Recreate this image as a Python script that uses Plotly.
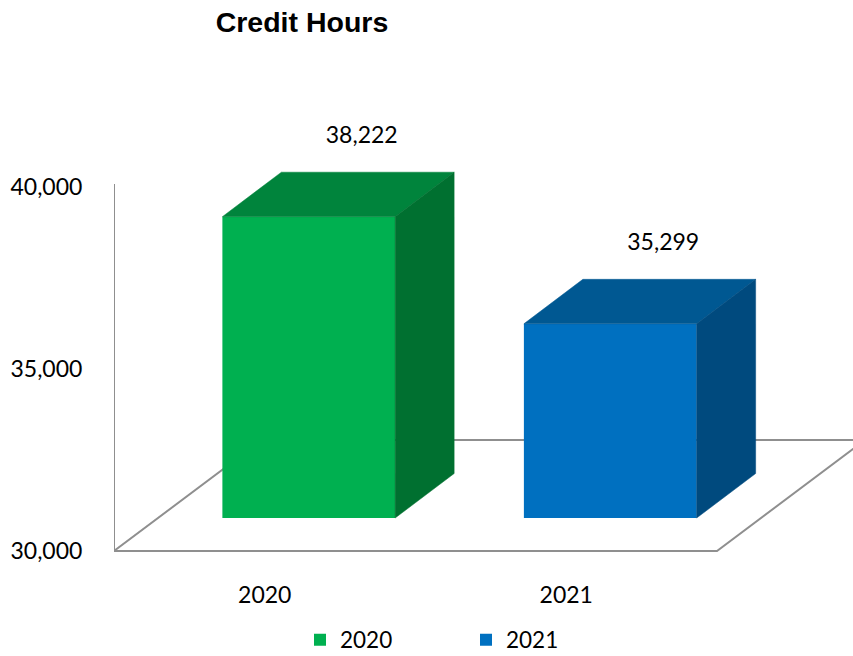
import plotly.graph_objects as go

# ---- data ----
categories = ["2020", "2021"]
values = [38222, 35299]
labels = ["38,222", "35,299"]
axis_ticks = [30000, 35000, 40000]

# ---- styling / geometry (pixels) ----
W, H = 853, 656
PL, PR, PT, PB = 114, 853, 50, 560          # plot area in page pixels
BASE = 30000
FRONT_BASE_PX = 518
K = 301.3 / (38222 - 30000)                 # px per unit (front faces)
WALL_BASE_PX = 551
K2 = (551 - 187) / 10000                    # px per unit (wall axis)
SLOT_PX = (717 - 114) / 2                   # px per category
FACE_OFF = 0.146                            # front face centre offset (cat units)
FACE_W = 0.573
BAR_DX = 59 / SLOT_PX
BAR_DY = 44.5 / K
FLOOR_DX = 148 / SLOT_PX
FLOOR_DY = 111 / K
FLOOR_Y = BASE - (WALL_BASE_PX - FRONT_BASE_PX) / K
LABEL_GAP = 35 / K

front_cols = ["#00B050", "#0070C0"]
top_cols = ["#00843C", "#005892"]
side_cols = ["#007030", "#004A7E"]
FONT = "Lato"
LINE_COL = "#8F8F8F"

x_lo = -0.5
x_hi = -0.5 + (PR - PL) / SLOT_PX
y_lo = BASE - (PB - FRONT_BASE_PX) / K
y_hi = BASE + (FRONT_BASE_PX - PT) / K
y2_lo = BASE - (PB - WALL_BASE_PX) / K2
y2_hi = BASE + (WALL_BASE_PX - PT) / K2

fig = go.Figure()

# front faces as bars
for i, (c, v) in enumerate(zip(categories, values)):
    fig.add_trace(go.Bar(
        x=[i + FACE_OFF], y=[v - BASE], base=[BASE], width=[FACE_W],
        marker=dict(color=front_cols[i], line=dict(width=0)),
        name=c, showlegend=True, hoverinfo="skip",
    ))

# top and side faces
for i, v in enumerate(values):
    x0 = i + FACE_OFF - FACE_W / 2
    x1 = i + FACE_OFF + FACE_W / 2
    fig.add_trace(go.Scatter(
        x=[x0, x1, x1 + BAR_DX, x0 + BAR_DX, x0],
        y=[v, v, v + BAR_DY, v + BAR_DY, v],
        fill="toself", fillcolor=top_cols[i], mode="lines",
        line=dict(width=0.5, color=top_cols[i]), showlegend=False, hoverinfo="skip",
    ))
    fig.add_trace(go.Scatter(
        x=[x1, x1, x1 + BAR_DX, x1 + BAR_DX, x1],
        y=[BASE, v, v + BAR_DY, BASE + BAR_DY, BASE],
        fill="toself", fillcolor=side_cols[i], mode="lines",
        line=dict(width=0.5, color=side_cols[i]), showlegend=False, hoverinfo="skip",
    ))

# data labels
fig.add_trace(go.Scatter(
    x=[i + FACE_OFF + BAR_DX - 0.02 for i in range(len(values))],
    y=[v + BAR_DY + LABEL_GAP for v in values],
    text=labels, mode="text", textposition="middle center",
    textfont=dict(family=FONT, size=23, color="#000000"),
    showlegend=False, hoverinfo="skip",
))

# wall line (on wall axis)
fig.add_trace(go.Scatter(
    x=[-0.5, -0.5], y=[axis_ticks[0], axis_ticks[-1] + 80], yaxis="y2",
    mode="lines", line=dict(color=LINE_COL, width=2), showlegend=False,
    hoverinfo="skip", cliponaxis=False,
))

# floor
n = len(categories)
fx0, fx1 = -0.5, n - 0.5
fig.add_shape(
    type="path", xref="x", yref="y", layer="below",
    path=(f"M {fx0},{FLOOR_Y} L {fx1},{FLOOR_Y} L {fx1 + FLOOR_DX},{FLOOR_Y + FLOOR_DY} "
          f"L {fx0 + FLOOR_DX},{FLOOR_Y + FLOOR_DY} Z"),
    line=dict(color=LINE_COL, width=2),
)

fig.update_layout(
    width=W, height=H,
    margin=dict(l=PL, r=W - PR, t=PT, b=H - PB, pad=0, autoexpand=False),
    paper_bgcolor="white", plot_bgcolor="white",
    barmode="overlay",
    title=dict(text="<b>Credit Hours</b>", x=302 / W, xref="container", xanchor="center",
               y=1 - 22 / H, yref="container", yanchor="middle",
               font=dict(family="Liberation Sans", size=28.5, color="#000000")),
    xaxis=dict(range=[x_lo, x_hi], tickvals=list(range(n)), ticktext=categories,
               showgrid=False, zeroline=False, showline=False,
               ticks="outside", ticklen=14, tickcolor="rgba(0,0,0,0)",
               tickfont=dict(family=FONT, size=23, color="#000000"), fixedrange=True),
    yaxis=dict(range=[y_lo, y_hi], showgrid=False, zeroline=False, showline=False,
               showticklabels=False, fixedrange=True),
    yaxis2=dict(range=[y2_lo, y2_hi], overlaying="y", side="left",
                tickvals=axis_ticks, tickformat=",", showgrid=False, zeroline=False,
                showline=False, ticks="outside", ticklen=26, tickcolor="rgba(0,0,0,0)",
                tickfont=dict(family=FONT, size=23, color="#000000"), fixedrange=True),
    legend=dict(orientation="h", x=(300 - PL) / (PR - PL), xanchor="left",
                y=-(640 - PB) / (PB - PT), yanchor="middle",
                entrywidth=121, entrywidthmode="pixels", itemwidth=30,
                font=dict(family=FONT, size=22.5, color="#000000")),
    showlegend=True,
)

fig.write_html("out.html", config={"displayModeBar": False},
               post_script="document.body.style.margin='0';document.body.style.overflow='hidden';")
